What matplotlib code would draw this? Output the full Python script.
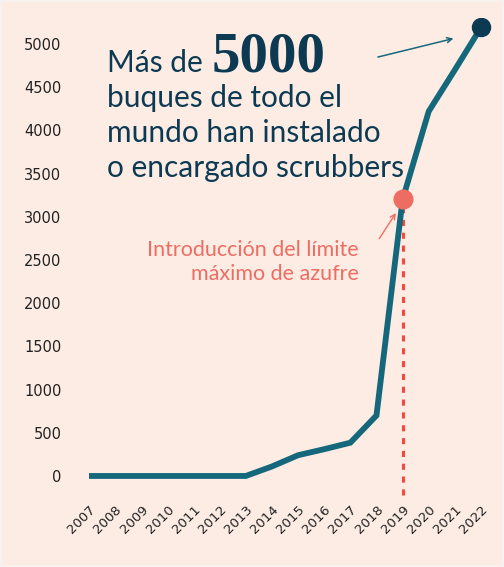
import matplotlib.pyplot as plt
from matplotlib.patches import Rectangle

# data
years = [2007, 2008, 2009, 2010, 2011, 2012, 2013, 2014, 2015, 2016, 2017, 2018, 2019, 2020, 2021, 2022]
ships = [0, 0, 0, 0, 0, 0, 0, 110, 240, 310, 385, 700, 3200, 4220, 4700, 5190]
y_ticks = [0, 500, 1000, 1500, 2000, 2500, 3000, 3500, 4000, 4500, 5000]
limit_year = 2019

bg = "#fdece4"
teal = "#15677c"
navy = "#0c3a53"
coral = "#ee6d62"
red_dash = "#f4493f"

fig = plt.figure(figsize=(5.04, 5.67), dpi=100, facecolor="#f7f2ef")
fig.patches.append(Rectangle((0.004, 0.004), 0.992, 0.992, transform=fig.transFigure,
                             facecolor=bg, edgecolor="none", zorder=-10))

ax = fig.add_axes([0.1548, 0.1453, 0.8307, 0.823])
ax.set_facecolor("none")
for s in ax.spines.values():
    s.set_visible(False)

ax.plot(years, ships, color=teal, lw=4.2, solid_capstyle="butt", solid_joinstyle="miter", zorder=3)

# sulfur limit marker + dotted line
i_lim = years.index(limit_year)
ax.vlines(limit_year, -220, ships[i_lim], colors=red_dash, linestyles=(0, (2, 2.2)), lw=2.2,
          clip_on=False, zorder=2)
ax.plot([limit_year], [ships[i_lim]], "o", color=coral, ms=13.5, zorder=4)
ax.plot([years[-1]], [ships[-1]], "o", color=navy, ms=13, zorder=4)

ax.set_xlim(2006.58, 2022.6)
ax.set_ylim(-100, 5300)
ax.set_yticks(y_ticks)
ax.set_yticklabels([str(v) for v in y_ticks], fontsize=10.5, color="#222222", family="DejaVu Sans")
ax.tick_params(axis="y", length=0, pad=12)
ax.set_xticks(years)
ax.set_xticklabels([str(y) for y in years], rotation=45, ha="right", rotation_mode="anchor",
                   fontsize=9.5, color="#222222", family="DejaVu Sans")
ax.tick_params(axis="x", length=0, pad=13)

# headline
fig.text(107 / 504, 1 - 72 / 567, "Más de", fontsize=21.5, color=navy, family="Lato")
fig.text(212 / 504, 1 - 72 / 567, "5000", fontsize=41, color=navy, family="Liberation Serif",
         weight="bold")
for k, line in enumerate(["buques de todo el", "mundo han instalado", "o encargado scrubbers"]):
    fig.text(107 / 504, 1 - (107 + 35 * k) / 567, line, fontsize=21.5, color=navy, family="Lato")

ax.annotate("", xy=(years[-1] - 0.95, ships[-1] - 120), xytext=(2017.95, 4840),
            arrowprops=dict(arrowstyle="->", color=teal, lw=1.1, mutation_scale=9))

fig.text(359 / 504, 1 - 256 / 567, "Introducción del límite", fontsize=15.5, color=coral,
         family="Lato", ha="right")
fig.text(359 / 504, 1 - 280 / 567, "máximo de azufre", fontsize=15.5, color=coral,
         family="Lato", ha="right")
ax.annotate("", xy=(limit_year - 0.2, ships[i_lim] - 130), xytext=(2018.05, 2720),
            arrowprops=dict(arrowstyle="->", color=coral, lw=1.0, mutation_scale=9))

fig.savefig("out.png", dpi=100, facecolor=fig.get_facecolor())
